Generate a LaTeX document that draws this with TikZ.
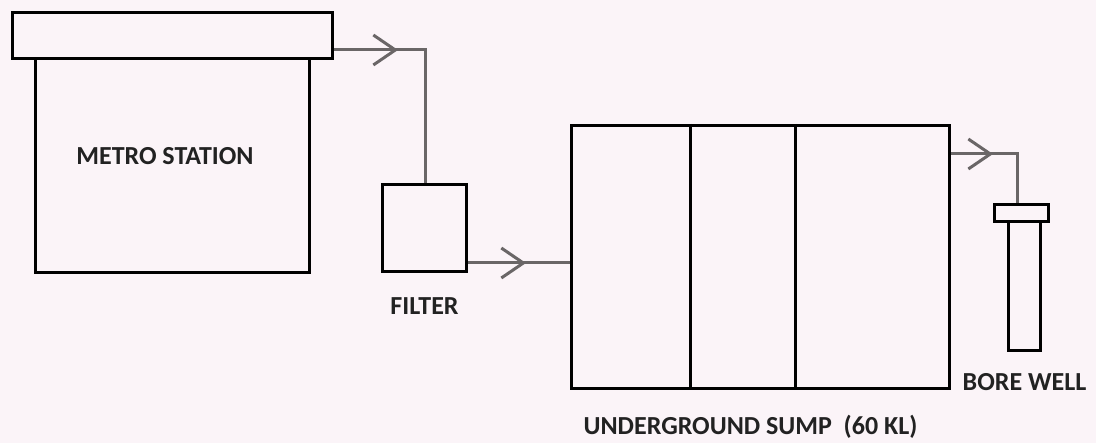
\documentclass[tikz,border=0pt]{standalone}
\usepackage{fontspec}
\setmainfont{Carlito}
\usetikzlibrary{arrows.meta,positioning,decorations.markings}
\definecolor{Paper}{HTML}{FBF4F8}
\definecolor{Pipe}{HTML}{6A6667}
\definecolor{Ink}{HTML}{222222}

\begin{document}
\begin{tikzpicture}[x=1pt,y=-1pt,node distance=24pt,
  tank/.style={draw=black,line width=3pt,inner sep=0pt,anchor=north west},
  tag/.style={inner sep=0pt,font=\fontsize{26}{30}\selectfont\bfseries,text=Ink},
  pipe/.style={draw=Pipe,line width=3pt},
  flow/.style={pipe,postaction={decorate},decoration={markings,
    mark=at position #1 with {\arrow[Pipe]{Straight Barb[length=22pt,width=30pt,line width=3pt]}}}}]
\fill[Paper] (0,0) rectangle (1096,443);
\useasboundingbox (0,0) rectangle (1096,443);
% metro station with its roof
\node[tank,minimum width=274pt,minimum height=214pt](station) at (34,57){};
\node[tank,minimum width=320pt,minimum height=46pt](roof) at (11,11){};
\node[tag](stationtag) at (165,156){METRO STATION};
% filter
\node[tank,minimum width=84pt,minimum height=87pt](filter) at (381,183){};
\node[tag,below=of filter](filtertag){FILTER};
% sump in three parts
\node[tank,minimum width=378pt,minimum height=263pt](sump) at (570,124){};
\foreach \x in {690,795} \draw[line width=3pt] ({\x},124) -- ({\x},387);
\node[tag,below=25pt of sump,xshift=-10pt](sumptag){UNDERGROUND SUMP~~(60 KL)};
% bore well
\node[tank,minimum width=54pt,minimum height=17pt](cap) at (993,203){};
\node[tank,minimum width=32pt,minimum height=129pt](well) at (1007,220){};
\node[tag,below=21pt of well](welltag){BORE WELL};
% pipes
\coordinate (bend1) at (425,50);
\coordinate (in2) at (570,263);
\coordinate (bend3) at (1017,154);
\draw[flow=64pt] (roof.east |- bend1) -- (bend1) -- (filter.north -| bend1);
\draw[flow=58pt] (filter.east |- in2) -- (in2);
\draw[flow=42pt] (sump.east |- bend3) -- (bend3) -- (cap.north -| bend3);
\end{tikzpicture}
\end{document}
